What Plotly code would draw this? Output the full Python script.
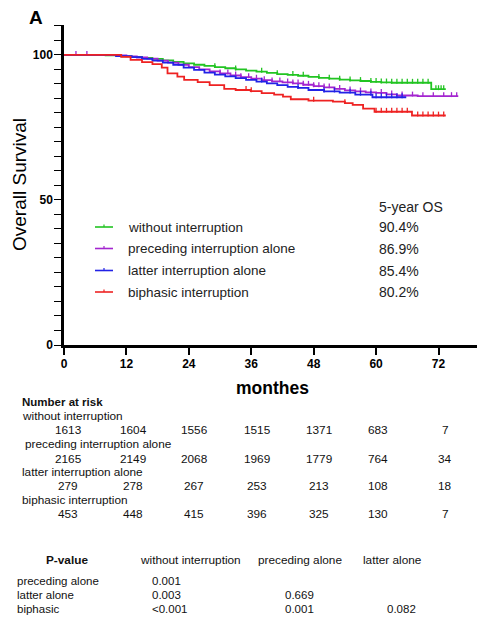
import numpy as np
import plotly.graph_objects as go

W, H = 477, 621
L, R, T, B = 64, 0, 25, 276          # plot area margins in px
PW, PH = W - L - R, H - T - B

FONT = "Liberation Sans, Arial, Helvetica, sans-serif"

# ---- Kaplan-Meier step data (months, overall survival %) ----
groups = ["without interruption", "preceding interruption alone",
          "latter interruption alone", "biphasic interruption"]
colors = ["#22c422", "#a325cf", "#2222e6", "#ee2222"]

t_without = [0, 8, 11, 13, 15, 17, 19, 21, 23, 25, 27, 29, 31, 33, 35, 37, 39,
             41, 43, 45, 47, 49, 51, 53, 55, 57, 59, 61, 63, 70.6, 73.4]
s_without = [100, 99.8, 99.5, 99.3, 99.0, 98.6, 98.1, 97.6, 97.1, 96.6, 96.2,
             95.8, 95.4, 95.0, 94.6, 94.2, 93.8, 93.4, 93.1, 92.8, 92.4, 92.1,
             91.8, 91.5, 91.2, 91.0, 90.7, 90.5, 90.4, 88.2, 88.2]

t_preceding = [0, 10, 12, 14, 16, 18, 20, 22, 24, 26, 28, 30, 32, 34, 36, 38,
               40, 42, 44, 46, 48, 50, 52, 54, 56, 58, 60, 62, 64, 68, 75.8]
s_preceding = [100, 99.8, 99.5, 99.1, 98.7, 98.0, 97.3, 96.6, 95.8, 95.0,
               94.3, 93.6, 92.9, 92.3, 91.8, 91.3, 90.9, 90.5, 90.2, 89.7,
               89.2, 88.8, 88.3, 87.8, 87.4, 87.1, 86.9, 86.4, 86.0, 85.8, 85.8]

t_latter = [0, 10, 13, 15, 17, 19, 21, 23, 25, 27, 29, 31, 33, 35, 37, 39, 41,
            43, 45, 47, 50, 53, 56, 59.3, 65.8]
s_latter = [100, 99.6, 99.2, 98.6, 98.0, 97.3, 96.6, 95.6, 94.8, 93.9, 93.2,
            92.6, 92.0, 91.4, 90.8, 90.2, 89.6, 89.0, 88.6, 87.9, 87.4, 87.0,
            86.3, 85.4, 85.4]

t_biphasic = [0, 11, 12.8, 15, 17, 18.8, 19.9, 21.8, 23.1, 25.7, 28, 30.8, 33,
              35.9, 38, 40.4, 42.1, 43.6, 47, 51.7, 54, 55.5, 57.5, 59.7, 66.9,
              73.4]
s_biphasic = [100, 99.3, 98.3, 97.5, 96.8, 95.6, 93.6, 92.5, 91.4, 90.6, 89.6,
              88.3, 87.9, 87.5, 86.8, 86.3, 85.6, 84.7, 84.2, 83.9, 83.4, 82.8,
              81.5, 80.4, 79.1, 79.1]

# censored observations (months)
c_without = [29, 33, 38, 41, 44, 46, 49, 51, 53, 55, 57, 59, 60, 61, 62, 63,
             64, 65, 66, 67, 68, 69, 70, 71.5, 72, 72.5, 73]
c_preceding = [2.3, 4.4, 30, 31.5, 33, 34, 35.5, 37, 38.5, 40, 41.5, 43, 44,
               45, 46, 47, 48, 49, 50, 51, 53, 55, 57, 59, 61, 63, 65, 67, 69,
               71, 73, 74.5, 75.5]
c_latter = [38, 45, 50, 52, 55, 57, 59, 60, 61, 62, 63, 64, 65]
c_biphasic = [35, 36, 48, 54, 60, 61, 62, 63, 64, 65, 66, 68, 69, 70, 71, 72,
              73]

five_year_os = ["90.4%", "86.9%", "85.4%", "80.2%"]

# ---- number at risk ----
risk_times = [0, 12, 24, 36, 48, 60, 72]
risk_without = [1613, 1604, 1556, 1515, 1371, 683, 7]
risk_preceding = [2165, 2149, 2068, 1969, 1779, 764, 34]
risk_latter = [279, 278, 267, 253, 213, 108, 18]
risk_biphasic = [453, 448, 415, 396, 325, 130, 7]

# ---- pairwise log-rank p-values ----
p_cols = ["without interruption", "preceding alone", "latter alone"]
p_rows = ["preceding alone", "latter alone", "biphasic"]
p_vals = [["0.001", "", ""],
          ["0.003", "0.669", ""],
          ["<0.001", "0.001", "0.082"]]

# y-axis ticks: every 5 %, labelled at 0 / 50 / 100
y_ticks = list(range(0, 115, 5))
y_labels = [str(v) if v in (0, 50, 100) else "" for v in y_ticks]

series = [(t_without, s_without, c_without),
          (t_preceding, s_preceding, c_preceding),
          (t_latter, s_latter, c_latter),
          (t_biphasic, s_biphasic, c_biphasic)]


def px(x):
    return (x - L) / PW


def py(y):
    return (H - B - y) / PH


def step_value(t, s, x):
    i = np.searchsorted(np.asarray(t), x, side="right") - 1
    return np.asarray(s)[np.clip(i, 0, len(s) - 1)]


fig = go.Figure()
for (t, s, c), name, col in zip(series, groups, colors):
    fig.add_trace(go.Scatter(x=t, y=s, mode="lines", line_shape="hv",
                             line=dict(color=col, width=1.8), name=name,
                             showlegend=False, hoverinfo="skip"))
    cy = step_value(t, s, np.asarray(c))
    fig.add_trace(go.Scatter(x=c, y=cy + 0.5, mode="markers",
                             marker=dict(symbol="line-ns", size=3.5,
                                         line=dict(color=col, width=1.3)),
                             showlegend=False, hoverinfo="skip"))

shapes = []
annotations = []

# legend samples and labels
leg_y = [227, 248.5, 270.5, 292]
for yy, name, col, os_txt in zip(leg_y, groups, colors, five_year_os):
    shapes.append(dict(type="line", xref="paper", yref="paper",
                       x0=px(95), x1=px(113), y0=py(yy), y1=py(yy),
                       line=dict(color=col, width=1.6)))
    shapes.append(dict(type="line", xref="paper", yref="paper",
                       x0=px(104), x1=px(104), y0=py(yy), y1=py(yy - 2.5),
                       line=dict(color=col, width=1.2)))
    annotations.append(dict(text=name, x=px(126), y=py(yy), xref="paper",
                            yref="paper", xanchor="left", yanchor="middle",
                            showarrow=False, font=dict(size=13.5, color="#222")))
    annotations.append(dict(text=os_txt, x=px(377), y=py(yy), xref="paper",
                            yref="paper", xanchor="left", yanchor="middle",
                            showarrow=False, font=dict(size=14, color="#222")))
annotations.append(dict(text="5-year OS", x=px(377), y=py(206.5),
                        xref="paper", yref="paper", xanchor="left",
                        yanchor="middle", showarrow=False,
                        font=dict(size=14, color="#222")))

# panel letter
annotations.append(dict(text="<b>A</b>", x=px(27), y=py(17), xref="paper",
                        yref="paper", xanchor="left", yanchor="middle",
                        showarrow=False, font=dict(size=19, color="black")))

# number at risk table
col_x = [68, 133, 194, 257, 319, 378, 445]
annotations.append(dict(text="<b>Number at risk</b>", x=px(20), y=py(402),
                        xref="paper", yref="paper", xanchor="left",
                        yanchor="middle", showarrow=False,
                        font=dict(size=11.5, color="#111")))
risk_rows = [risk_without, risk_preceding, risk_latter, risk_biphasic]
label_y = [415.5, 444, 471.5, 499.5]
label_x = [20, 23, 20, 20]
for name, lx, ly, vals in zip(groups, label_x, label_y, risk_rows):
    annotations.append(dict(text=name, x=px(lx), y=py(ly), xref="paper",
                            yref="paper", xanchor="left", yanchor="middle",
                            showarrow=False, font=dict(size=11.8, color="#111")))
    for cx, v in zip(col_x, vals):
        annotations.append(dict(text=str(v), x=px(cx), y=py(ly + 14.5),
                                xref="paper", yref="paper", xanchor="center",
                                yanchor="middle", showarrow=False,
                                font=dict(size=11.8, color="#111")))

# p-value table
annotations.append(dict(text="<b>P-value</b>", x=px(67), y=py(560),
                        xref="paper", yref="paper", xanchor="center",
                        yanchor="middle", showarrow=False,
                        font=dict(size=11.8, color="#111")))
head_x = [190, 300, 392]
for hx, h in zip(head_x, p_cols):
    annotations.append(dict(text=h, x=px(hx), y=py(560), xref="paper",
                            yref="paper", xanchor="center", yanchor="middle",
                            showarrow=False, font=dict(size=11.8, color="#111")))
row_y = [580.5, 595, 608.5]
val_x = [150, 282.5, 384.5]
for ry, rname, vals in zip(row_y, p_rows, p_vals):
    annotations.append(dict(text=rname, x=px(15), y=py(ry), xref="paper",
                            yref="paper", xanchor="left", yanchor="middle",
                            showarrow=False, font=dict(size=11.5, color="#111")))
    for vx, v in zip(val_x, vals):
        if v:
            annotations.append(dict(text=v, x=px(vx), y=py(ry), xref="paper",
                                    yref="paper", xanchor="left",
                                    yanchor="middle", showarrow=False,
                                    font=dict(size=11.5, color="#111")))

# axis titles
annotations.append(dict(text="<b>monthes</b>", x=px(272), y=py(388),
                        xref="paper", yref="paper", xanchor="center",
                        yanchor="middle", showarrow=False,
                        font=dict(size=17.5, color="black")))
annotations.append(dict(text="Overall Survival", x=px(19), y=py(185),
                        xref="paper", yref="paper", xanchor="center",
                        yanchor="middle", textangle=-90, showarrow=False,
                        font=dict(size=19, color="black")))

fig.update_layout(
    width=W, height=H,
    margin=dict(l=L, r=R, t=T, b=B, pad=0),
    paper_bgcolor="white", plot_bgcolor="white",
    font=dict(family=FONT, color="black"),
    shapes=shapes, annotations=annotations,
    showlegend=False,
    xaxis=dict(range=[0, 79.4], tickmode="linear", tick0=0, dtick=12,
               showline=True, linecolor="black", linewidth=2.5,
               ticks="outside", ticklen=7, tickwidth=1.5, tickcolor="black",
               ticklabelstandoff=-1,
               showgrid=False, zeroline=False,
               tickfont=dict(size=12, family=FONT, weight="bold")),
    yaxis=dict(range=[0, 110.3], tickmode="array", tickvals=y_ticks,
               ticktext=y_labels,
               showline=True, linecolor="black", linewidth=2.5,
               ticks="outside", ticklen=7, tickwidth=1.4, tickcolor="black",
               ticklabelstandoff=-1,
               showgrid=False, zeroline=False,
               tickfont=dict(size=12, family=FONT, weight="bold")),
)

fig.write_html("out.html")
